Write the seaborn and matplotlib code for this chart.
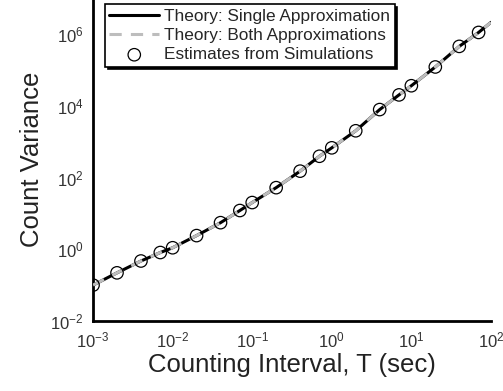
import numpy as np
import pandas as pd
import matplotlib
matplotlib.use("Agg")
import matplotlib.pyplot as plt
import seaborn as sns
from matplotlib.ticker import LogLocator, LogFormatterSciNotation, NullFormatter, FixedLocator

# Data
T_sim = [1e-3, 2e-3, 4e-3, 7e-3, 1e-2, 2e-2, 4e-2, 7e-2, 0.1, 0.2, 0.4, 0.7,
         1, 2, 4, 7, 10, 20, 40, 70]
var_sim = [0.1, 0.22, 0.47, 0.81, 1.1, 2.4, 5.5, 12, 20, 52, 150, 390,
           670, 2000, 7800, 2.0e4, 3.6e4, 1.2e5, 4.5e5, 1.1e6]
T_theory = [1e-3, 2e-3, 4e-3, 7e-3, 1e-2, 2e-2, 4e-2, 7e-2, 0.1, 0.2, 0.4, 0.7,
            1, 2, 4, 7, 10, 20, 40, 70, 100]
var_single = [0.1, 0.22, 0.47, 0.81, 1.1, 2.4, 5.5, 12, 20, 52, 150, 390,
              670, 2000, 7800, 2.0e4, 3.6e4, 1.2e5, 4.5e5, 1.1e6, 2.1e6]
var_both = [0.1, 0.22, 0.47, 0.81, 1.1, 2.4, 5.5, 12, 20, 52, 150, 390,
            670, 2000, 7800, 2.0e4, 3.6e4, 1.2e5, 4.5e5, 1.1e6, 2.1e6]
y_major_ticks = [1e-2, 1, 1e2, 1e4, 1e6]

sns.set_style("white")
plt.rcParams['font.family'] = ['Liberation Sans', 'DejaVu Sans']
plt.rcParams['mathtext.fontset'] = 'custom'
plt.rcParams['mathtext.rm'] = 'Liberation Sans'
plt.rcParams['mathtext.it'] = 'Liberation Sans:italic'
plt.rcParams['mathtext.bf'] = 'Liberation Sans:bold'

fig = plt.figure(figsize=(5.03, 3.91), dpi=100)
ax = fig.add_axes([0.185, 0.179, 0.791, 0.826])

df_th = pd.DataFrame({"T": T_theory, "single": var_single, "both": var_both})
df_sim = pd.DataFrame({"T": T_sim, "var": var_sim})

sns.lineplot(data=df_th, x="T", y="single", ax=ax, color="black", lw=2.2,
             label="Theory: Single Approximation", zorder=2)
sns.lineplot(data=df_th, x="T", y="both", ax=ax, color="#bdbdbd", lw=2.2,
             label="Theory: Both Approximations", zorder=3)
ax.lines[-1].set_linestyle((0, (4, 3)))
sns.scatterplot(data=df_sim, x="T", y="var", ax=ax, marker="o", s=80,
                facecolor="none", edgecolor="black", linewidth=0.9,
                label="Estimates from Simulations", zorder=4)

ax.set_xscale("log")
ax.set_yscale("log")
ax.set_xlim(1e-3, 1e2)
ax.set_ylim(1e-2, 1e7)

ax.xaxis.set_major_locator(LogLocator(base=10, numticks=20))
ax.yaxis.set_major_locator(FixedLocator(y_major_ticks))
ax.yaxis.set_minor_locator(LogLocator(base=10, subs=np.arange(1, 10), numticks=30))
ax.xaxis.set_minor_locator(LogLocator(base=10, subs=np.arange(2, 10), numticks=30))
ax.yaxis.set_minor_formatter(NullFormatter())
ax.xaxis.set_minor_formatter(NullFormatter())
ax.xaxis.set_major_formatter(LogFormatterSciNotation())
ax.yaxis.set_major_formatter(LogFormatterSciNotation())

for s in ["top", "right"]:
    ax.spines[s].set_visible(False)
for s in ["left", "bottom"]:
    ax.spines[s].set_linewidth(2.0)
    ax.spines[s].set_color("black")

ax.tick_params(which="major", direction="inout", length=10, width=1.5,
               labelsize=12, colors="black", pad=2)
ax.tick_params(which="minor", direction="in", length=5, width=1.0, colors="black")
ax.tick_params(axis="both", which="major", labelcolor="#333333")

ax.set_xlabel("Counting Interval, T (sec)", fontsize=18.5, color="#222222", labelpad=2)
ax.set_ylabel("Count Variance", fontsize=18.5, color="#222222", labelpad=4)

leg = ax.legend(loc="upper left", bbox_to_anchor=(0.03, 0.981), frameon=True,
                fancybox=False, shadow={'color': 'black', 'alpha': 1.0},
                edgecolor="black", fontsize=12.4, handlelength=2.9,
                borderpad=0.25, labelspacing=0.25, handletextpad=0.3,
                borderaxespad=0.0)
leg.get_frame().set_linewidth(1.2)

fig.savefig("out.png", dpi=100)
